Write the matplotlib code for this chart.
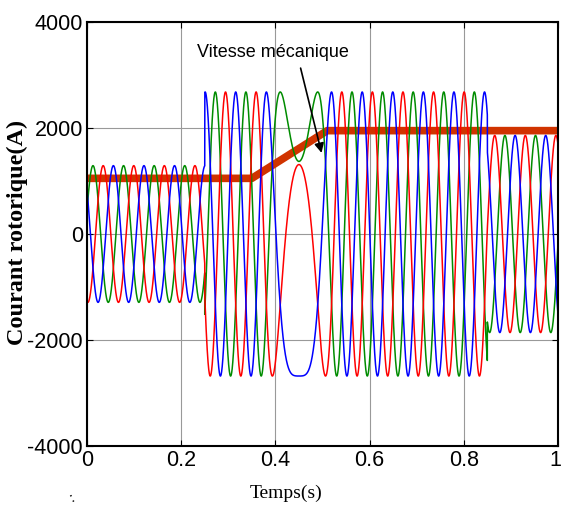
import numpy as np
import matplotlib
matplotlib.use('Agg')
import matplotlib.pyplot as plt
import matplotlib.transforms as mtransforms

# - values
xticks = [0, 0.2, 0.4, 0.6, 0.8, 1]
xtick_labels = ['0', '0.2', '0.4', '0.6', '0.8', '1']
yticks = [-4000, -2000, 0, 2000, 4000]
ytick_labels = ['-4000', '-2000', '0', '2000', '4000']

# mechanical speed (shown on the current scale)
speed_t = [0.0, 0.35, 0.51, 1.0]
speed_val = [1050, 1050, 1950, 1950]

# rotor current envelope: amplitude per time segment
amp_edges = [0.0, 0.25, 0.85, 1.0]
amp_val = [1290, 2680, 1860]

# rotor (slip) frequency, Hz; changes sign when speed passes synchronism
freq_t = [0.0, 0.376, 0.45, 0.524, 1.0]
freq_hz = [15.4, 15.4, 0.0, -15.4, -15.4]
first_green_peak = 0.0127   # s

phase_colors = ['#008c00', '#ff0000', '#0000ff']
phase_shift = [0.0, 1.0 / 3, 2.0 / 3]   # cycles

t = np.linspace(0, 1, 20001)
f = np.interp(t, freq_t, freq_hz)
cycles = np.concatenate([[0], np.cumsum((f[1:] + f[:-1]) / 2 * np.diff(t))])
cycles = cycles - freq_hz[0] * first_green_peak
seg = np.clip(np.searchsorted(amp_edges, t, side='right') - 1, 0, len(amp_val) - 1)
amp = np.array(amp_val)[seg]

plt.rcParams['font.family'] = ['Liberation Sans', 'DejaVu Sans']
fig = plt.figure(figsize=(5.61, 5.15), dpi=100)
ax = fig.add_axes([87 / 561, 1 - 446 / 515, 471 / 561, 424 / 515])

ax.plot(speed_t, speed_val, color='#d03300', lw=5.5, solid_capstyle='butt', zorder=1.8)
for c, s in zip(phase_colors, phase_shift):
    ax.plot(t, amp * np.cos(2 * np.pi * (cycles - s)), color=c, lw=1.1, zorder=2)

ax.set_xlim(0, 1)
ax.set_ylim(-4000, 4000)
ax.set_xticks(xticks)
ax.set_xticklabels(xtick_labels)
ax.set_yticks(yticks)
ax.set_yticklabels(ytick_labels)
ax.tick_params(direction='in', labelsize=15.5, length=4, pad=3, top=True, right=True)
ax.grid(True, color='#999999', lw=0.8)
for sp in ax.spines.values():
    sp.set_linewidth(1.5)
# last x label sits against the figure edge, as in the original
last = ax.get_xticklabels()[-1]
last.set_horizontalalignment('right')
last.set_transform(last.get_transform() + mtransforms.ScaledTranslation(3 / 100, 0, fig.dpi_scale_trans))

ax.text(0.395, 3430, 'Vitesse mécanique', fontsize=13, ha='center', va='center')
ax.annotate('', xy=(0.498, 1530), xytext=(0.4535, 3130),
            arrowprops=dict(arrowstyle='-|>', color='black', lw=1.2,
                            shrinkA=0, shrinkB=0, mutation_scale=14))

fig.text(17 / 561, 1 - 232 / 515, 'Courant rotorique(A)', rotation=90,
         ha='center', va='center', fontsize=17.5, fontweight='bold',
         family=['Liberation Serif', 'DejaVu Serif'])
fig.text(286 / 561, 1 - 493 / 515, 'Temps(s)', ha='center', va='center',
         fontsize=14, family=['Liberation Serif', 'DejaVu Serif'])
fig.text(72 / 561, 1 - 498 / 515, ':', ha='center', va='center', fontsize=9,
         rotation=25, fontweight='bold')

fig.savefig('out.png', dpi=100)
